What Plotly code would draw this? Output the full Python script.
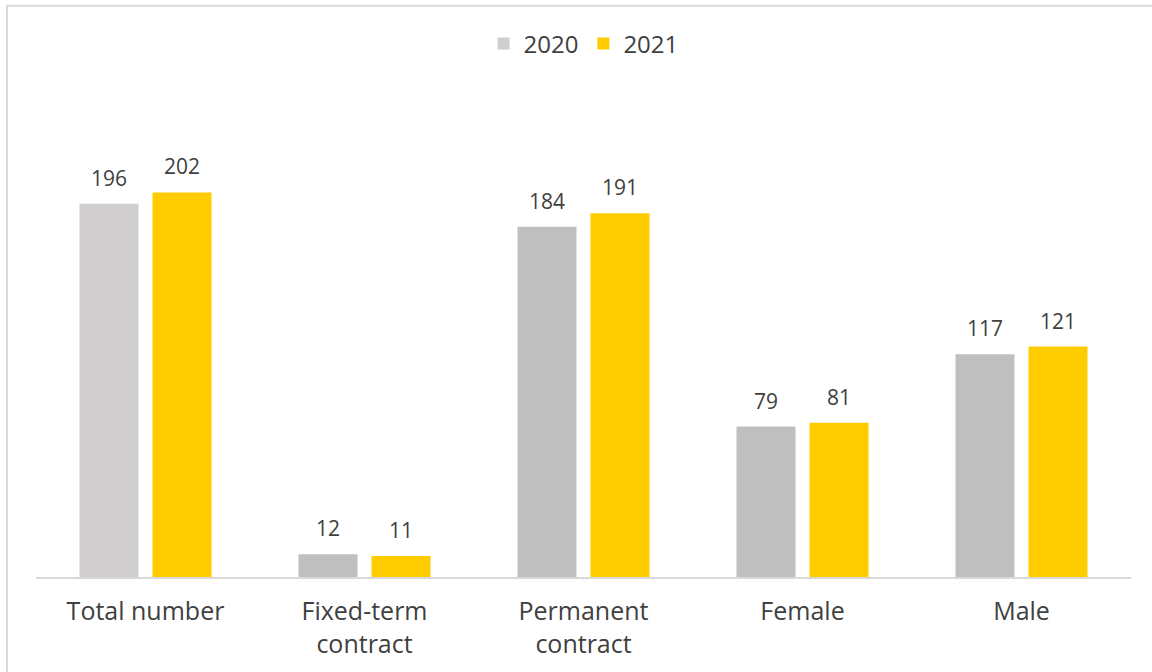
import plotly.graph_objects as go

categories = ["Total number", "Fixed-term<br>contract", "Permanent<br>contract", "Female", "Male"]
values_2020 = [196, 12, 184, 79, 117]
values_2021 = [202, 11, 191, 81, 121]

colors_2020 = ["#d0cece", "#bfbfbf", "#bfbfbf", "#bfbfbf", "#bfbfbf"]

fig = go.Figure()
fig.add_trace(go.Bar(
    name="2020", x=categories, y=values_2020,
    marker=dict(color=colors_2020, line=dict(width=0)),
))
fig.add_trace(go.Bar(
    name="2021", x=categories, y=values_2021,
    marker=dict(color="#ffcc00", line=dict(width=0)),
))

annotations = []
for vals, shift in ((values_2020, -36.5), (values_2021, 36.5)):
    for c, v in zip(categories, vals):
        annotations.append(dict(
            x=c, y=v, xref="x", yref="y", text=str(v), showarrow=False,
            xshift=shift, yshift=11, yanchor="bottom", borderpad=0,
            font=dict(size=21, color="#404040"),
        ))

fig.update_layout(
    width=1152, height=672,
    margin=dict(l=36, r=21, t=101, b=91),
    paper_bgcolor="white", plot_bgcolor="white",
    font=dict(family="Open Sans", color="#404040"),
    barmode="group", bargap=0.333, bargroupgap=0.192,
    legend=dict(orientation="h", x=0.5, xanchor="center", y=1.12, yanchor="middle",
                font=dict(size=24, color="#404040"), itemwidth=30, traceorder="normal"),
    xaxis=dict(showline=True, linecolor="#d9d9d9", linewidth=2, ticks="",
               tickfont=dict(size=25, color="#404040"), showgrid=False,
               ticklabelstandoff=11),
    yaxis=dict(range=[0, 250], visible=False, showgrid=False),
    showlegend=True,
    annotations=annotations,
    shapes=[dict(type="rect", xref="paper", yref="paper",
                 x0=-0.0265, x1=1.05, y0=-0.3, y1=1.2,
                 line=dict(color="#d9d9d9", width=2), fillcolor="rgba(0,0,0,0)", layer="below")],
)

fig.write_html("out.html")
